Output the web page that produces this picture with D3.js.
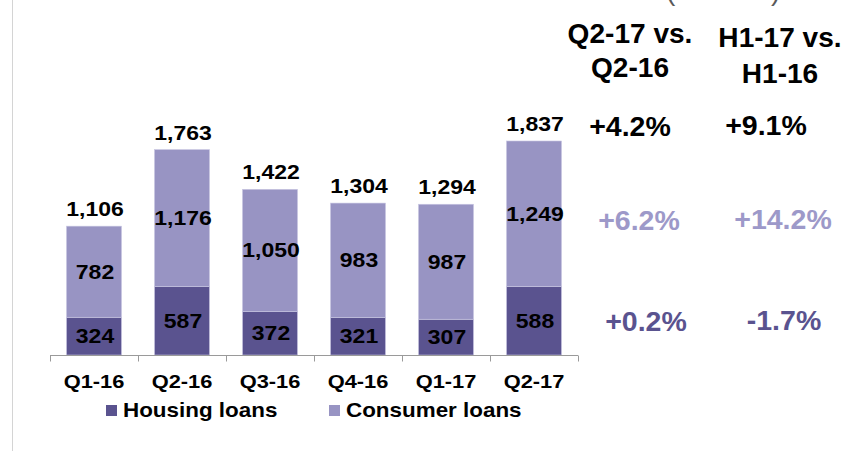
<!DOCTYPE html>
<html>
<head>
<meta charset="utf-8">
<script src="https://cdn.jsdelivr.net/npm/d3@7"></script>
<style>
  html, body { margin: 0; padding: 0; background: #fff; }
  svg { display: block; }
</style>
</head>
<body>
<script>
// --- Data ---
const quarters = ["Q1-16", "Q2-16", "Q3-16", "Q4-16", "Q1-17", "Q2-17"];
const housing = [324, 587, 372, 321, 307, 588];
const consumer = [782, 1176, 1050, 983, 987, 1249];
const totals = [1106, 1763, 1422, 1304, 1294, 1837];
const seriesNames = ["Housing loans", "Consumer loans"];
const headerQ = ["Q2-17 vs.", "Q2-16"];
const headerH = ["H1-17 vs.", "H1-16"];
const changeQ = ["+4.2%", "+6.2%", "+0.2%"]; // total, consumer, housing
const changeH = ["+9.1%", "+14.2%", "-1.7%"];

const W = 868, H = 451;
const darkColor = "#5a538f";
const lightColor = "#9894c3";
const font = "'Liberation Sans', Arial, sans-serif";

const svg = d3.select("body").append("svg")
  .attr("width", W).attr("height", H)
  .style("font-family", font);

// left border line
svg.append("line")
  .attr("x1", 12.5).attr("x2", 12.5).attr("y1", 0).attr("y2", H)
  .attr("stroke", "#d4d4d4");

// --- Scales ---
const x = d3.scaleBand().domain(quarters).range([50, 578])
  .paddingInner(0.375).paddingOuter(0.1875);
const y = d3.scaleLinear().domain([0, 2000]).range([355, 122]);

const rows = quarters.map((q, i) => ({ q, housing: housing[i], consumer: consumer[i], total: totals[i] }));
const stacked = d3.stack().keys(["housing", "consumer"])(rows);
const color = { housing: darkColor, consumer: lightColor };

// helper: text stretched horizontally
function label(g, tx, ty, txt, size, sx, fill, anchor) {
  g.append("text")
    .attr("transform", `translate(${tx},${ty}) scale(${sx},1)`)
    .attr("text-anchor", anchor || "middle")
    .attr("font-size", size)
    .attr("font-weight", "bold")
    .attr("fill", fill || "#000")
    .text(txt);
}

// --- Bars ---
const layers = svg.append("g").selectAll("g").data(stacked).join("g")
  .attr("fill", d => color[d.key]);
layers.selectAll("rect").data(d => d).join("rect")
  .attr("x", d => x(d.data.q))
  .attr("width", x.bandwidth())
  .attr("y", d => y(d[1]))
  .attr("height", d => y(d[0]) - y(d[1]))
  .attr("stroke", "#c9c7e2").attr("stroke-width", 0.6);

// segment labels
const lab = svg.append("g");
stacked.forEach(layer => {
  layer.forEach(d => {
    const cx = x(d.data.q) + x.bandwidth() / 2 + 1;
    const cy = (y(d[0]) + y(d[1])) / 2 + 7;
    label(lab, cx, cy, d3.format(",")(d[1] - d[0]), 20, 1.15);
  });
});
// total labels
rows.forEach(r => {
  label(lab, x(r.q) + x.bandwidth() / 2 + 1, y(r.total) - 10, d3.format(",")(r.total), 20, 1.15);
});

// --- Axis ---
const axisY = 355.5;
svg.append("line")
  .attr("x1", 50).attr("x2", 578).attr("y1", axisY).attr("y2", axisY)
  .attr("stroke", "#9a9a9a");
const bounds = quarters.map(q => x(q) - x.step() * x.paddingInner() / 2)
  .concat([x(quarters[quarters.length - 1]) + x.bandwidth() + x.step() * x.paddingInner() / 2]);
svg.append("g").selectAll("line").data(bounds).join("line")
  .attr("x1", d => Math.round(d) + 0.5).attr("x2", d => Math.round(d) + 0.5)
  .attr("y1", axisY).attr("y2", axisY + 6)
  .attr("stroke", "#9a9a9a");
const cat = svg.append("g");
quarters.forEach(q => label(cat, x(q) + x.bandwidth() / 2, 388, q, 19, 1.15));

// --- Legend ---
const leg = svg.append("g");
const legItems = [
  { name: seriesNames[0], c: darkColor, x: 106 },
  { name: seriesNames[1], c: lightColor, x: 329 }
];
legItems.forEach(it => {
  leg.append("rect").attr("x", it.x).attr("y", 405).attr("width", 11).attr("height", 11).attr("fill", it.c);
  label(leg, it.x + 17, 417, it.name, 19.5, 1.15, "#000", "start");
});

// --- Header & change figures ---
const hdr = svg.append("g");
// cut-off subtitle brackets at the top (cropped in the original too)
hdr.append("text").attr("x", 666).attr("y", 0).attr("font-size", 28).attr("fill", "#595959").text("(");
hdr.append("text").attr("x", 771).attr("y", 0).attr("font-size", 28).attr("fill", "#595959").text(")");

label(hdr, 630, 43, headerQ[0], 27, 1.04);
label(hdr, 630, 77, headerQ[1], 27, 1.04);
label(hdr, 780, 47, headerH[0], 27, 1.04);
label(hdr, 780, 83, headerH[1], 27, 1.04);

const rowColors = ["#000", "#9d99c9", darkColor];
const rowY = [136, 230, 331];
const colQx = [630, 639, 646];
const colHx = [766, 783, 784];
changeQ.forEach((t, i) => label(hdr, colQx[i], rowY[i], t, 28.5, 1.0, rowColors[i]));
changeH.forEach((t, i) => label(hdr, colHx[i], rowY[i] - 1, t, 28.5, 1.0, rowColors[i]));
</script>
</body>
</html>
